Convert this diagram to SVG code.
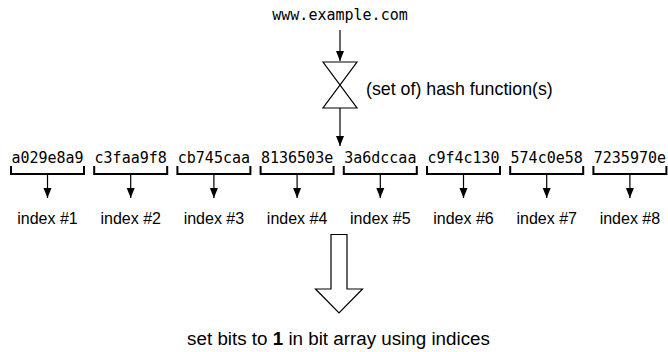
<svg xmlns="http://www.w3.org/2000/svg" width="668" height="352" viewBox="0 0 668 352">
<style>
.mono{font-family:"DejaVu Sans Mono","Liberation Mono",monospace;font-size:15px;fill:#000}
.sans{font-family:"Liberation Sans",Arial,Helvetica,sans-serif;fill:#000}
.ln{stroke:#000;stroke-width:1.2;fill:none}
.br{stroke:#000;stroke-width:2;fill:none}
</style>
<defs>
<marker id="ah" viewBox="0 0 10 10" refX="10" refY="5" markerWidth="10" markerHeight="10" markerUnits="userSpaceOnUse" orient="auto">
<path d="M0,1 L10,5 L0,9 Z" fill="#000"/>
</marker>
</defs>
<rect width="668" height="352" fill="#fff"/>
<g id="input">
<text class="mono" x="340" y="20" text-anchor="middle">www.example.com</text>
</g>
<g id="hash">
<path class="ln" d="M323,62 L357,62 L323,108 L357,108 Z"/>
<text class="sans" x="366" y="95" font-size="17.8">(set of) hash function(s)</text>
</g>
<g id="hashes">
<text class="mono" x="47.5" y="163" text-anchor="middle">a029e8a9</text>
<text class="mono" x="130.7" y="163" text-anchor="middle">c3faa9f8</text>
<text class="mono" x="213.9" y="163" text-anchor="middle">cb745caa</text>
<text class="mono" x="297.1" y="163" text-anchor="middle">8136503e</text>
<text class="mono" x="380.3" y="163" text-anchor="middle">3a6dccaa</text>
<text class="mono" x="463.5" y="163" text-anchor="middle">c9f4c130</text>
<text class="mono" x="546.7" y="163" text-anchor="middle">574c0e58</text>
<text class="mono" x="629.9" y="163" text-anchor="middle">7235970e</text>
<path class="br" d="M11,166 V174 H84 V166 M94.2,166 V174 H167.2 V166 M177.4,166 V174 H250.4 V166 M260.6,166 V174 H333.6 V166 M343.8,166 V174 H416.8 V166 M427,166 V174 H500 V166 M510.2,166 V174 H583.2 V166 M593.4,166 V174 H666.4 V166"/>
</g>
<g id="indices">
<text class="sans" font-size="16" x="47.5" y="224" text-anchor="middle">index #1</text>
<text class="sans" font-size="16" x="130.7" y="224" text-anchor="middle">index #2</text>
<text class="sans" font-size="16" x="213.9" y="224" text-anchor="middle">index #3</text>
<text class="sans" font-size="16" x="297.1" y="224" text-anchor="middle">index #4</text>
<text class="sans" font-size="16" x="380.3" y="224" text-anchor="middle">index #5</text>
<text class="sans" font-size="16" x="463.5" y="224" text-anchor="middle">index #6</text>
<text class="sans" font-size="16" x="546.7" y="224" text-anchor="middle">index #7</text>
<text class="sans" font-size="16" x="629.9" y="224" text-anchor="middle">index #8</text>
</g>
<g id="connectors">
<line class="ln" x1="340" y1="30" x2="340" y2="61" marker-end="url(#ah)"/>
<line class="ln" x1="340" y1="108" x2="340" y2="146" marker-end="url(#ah)"/>
<line class="ln" x1="47.5" y1="174" x2="47.5" y2="198" marker-end="url(#ah)"/>
<line class="ln" x1="130.7" y1="174" x2="130.7" y2="198" marker-end="url(#ah)"/>
<line class="ln" x1="213.9" y1="174" x2="213.9" y2="198" marker-end="url(#ah)"/>
<line class="ln" x1="297.1" y1="174" x2="297.1" y2="198" marker-end="url(#ah)"/>
<line class="ln" x1="380.3" y1="174" x2="380.3" y2="198" marker-end="url(#ah)"/>
<line class="ln" x1="463.5" y1="174" x2="463.5" y2="198" marker-end="url(#ah)"/>
<line class="ln" x1="546.7" y1="174" x2="546.7" y2="198" marker-end="url(#ah)"/>
<line class="ln" x1="629.9" y1="174" x2="629.9" y2="198" marker-end="url(#ah)"/>
<path class="ln" d="M331,234.5 H347 V289 H362.5 L339,313 L315.5,289 H331 Z"/>
</g>
<g id="result">
<text class="sans" font-size="18.8" x="338.5" y="345" text-anchor="middle">set bits to <tspan font-weight="bold">1</tspan> in bit array using indices</text>
</g>
</svg>
